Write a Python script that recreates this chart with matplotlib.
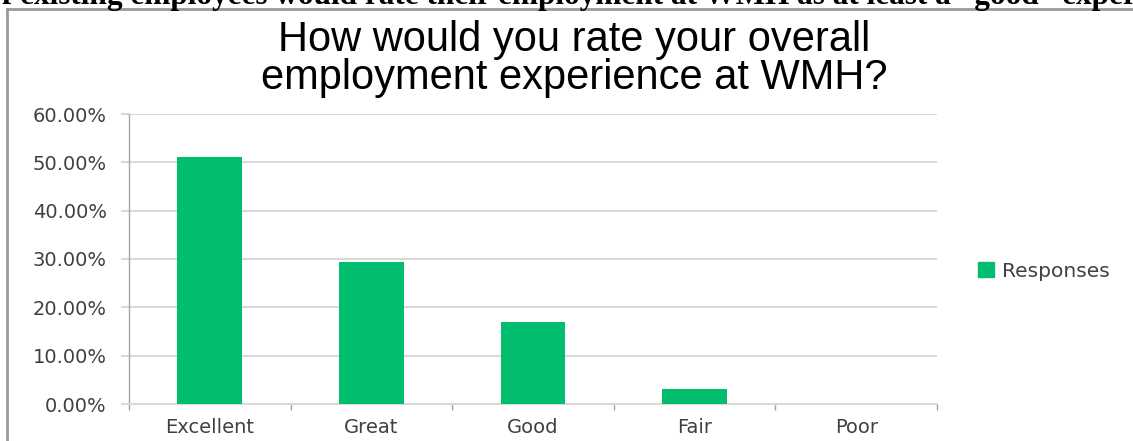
import matplotlib.pyplot as plt
from matplotlib.lines import Line2D
from matplotlib.patches import Patch

# donnees
categories = ['Excellent', 'Great', 'Good', 'Fair', 'Poor']
responses = [51.2, 29.3, 16.9, 3.1, 0.0]
yticks = [0, 10, 20, 30, 40, 50, 60]
ytick_labels = ['0.00%', '10.00%', '20.00%', '30.00%', '40.00%', '50.00%', '60.00%']

W, H = 1133, 441
fig = plt.figure(figsize=(W / 100, H / 100), dpi=100)

green = '#00BE6E'
grid_col = '#d9d9d9'
txt_col = '#404040'

ax = fig.add_axes([129 / W, 1 - 404 / H, (937 - 129) / W, (404 - 114) / H])
x = range(len(categories))
ax.bar(x, responses, width=0.4, color=green, zorder=3)

ax.set_xlim(-0.5, len(categories) - 0.5)
ax.set_ylim(0, 60)
ax.set_yticks(yticks)
ax.set_yticklabels(ytick_labels)
ax.set_xticks(list(x))
ax.set_xticklabels(categories)
ax.set_xticks([i - 0.5 for i in range(len(categories) + 1)], minor=True)

ax.grid(axis='y', color=grid_col, linewidth=1.5, zorder=0)
ax.tick_params(axis='y', length=6, width=1.5, color=grid_col, pad=10,
               labelsize=14, labelcolor=txt_col)
ax.tick_params(axis='x', which='major', length=0, pad=10,
               labelsize=14, labelcolor=txt_col)
ax.tick_params(axis='x', which='minor', length=4, width=1, color='#a0a0a0')
for lab in ax.get_xticklabels() + ax.get_yticklabels():
    lab.set_family('DejaVu Sans')

for s in ['top', 'right']:
    ax.spines[s].set_visible(False)
ax.spines['left'].set_color('#a6a6a6')
ax.spines['left'].set_linewidth(1)
ax.spines['bottom'].set_color(grid_col)
ax.spines['bottom'].set_linewidth(1.5)

# titre du graphique, deux lignes
fig.text(574 / W, 1 - 51 / H, 'How would you rate your overall',
         ha='center', va='baseline', fontsize=30, family='Liberation Sans', color='black')
fig.text(574 / W, 1 - 89 / H, 'employment experience at WMH?',
         ha='center', va='baseline', fontsize=30, family='Liberation Sans', color='black')

# legende
fig.legend(handles=[Patch(color=green, label='Responses')], loc='center left',
           bbox_to_anchor=(960 / W, 1 - 271 / H), frameon=False,
           handlelength=0.8, handleheight=0.8, handletextpad=0.4,
           prop={'family': 'DejaVu Sans', 'size': 14.5}, labelcolor=txt_col)

# cadre du graphique (coupe a droite et en bas)
fig.add_artist(Line2D([7 / W, 7 / W], [0, 1 - 9 / H], transform=fig.transFigure,
                      color='#9a9a9a', linewidth=2))
fig.add_artist(Line2D([7 / W, 1], [1 - 9 / H, 1 - 9 / H], transform=fig.transFigure,
                      color='#9a9a9a', linewidth=2))

# texte du document au-dessus, coupe par le bord
fig.text(-14 / W, 1 - 4 / H,
         'of existing employees would rate their employment at WMH as at least a \u201cgood\u201d experience',
         ha='left', va='baseline', fontsize=22.5, family='Liberation Serif',
         fontweight='bold', color='black')

fig.savefig('out.png', dpi=100)
